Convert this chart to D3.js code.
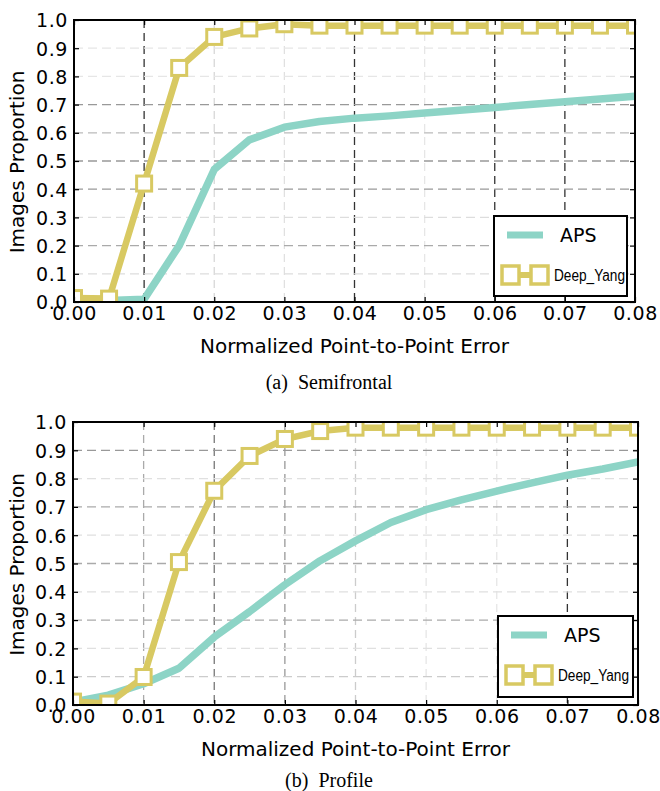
<!DOCTYPE html>
<html>
<head>
<meta charset="utf-8">
<script src="https://cdn.jsdelivr.net/npm/d3@7"></script>
<style>
  body { margin: 0; background: #fff; }
  svg { display: block; }
</style>
</head>
<body>
<div id="mainDiv"></div>
<script>
'use strict';

// error thresholds (x) shared by both panels
var errorSteps = [0, 0.005, 0.01, 0.015, 0.02, 0.025, 0.03, 0.035, 0.04,
                  0.045, 0.05, 0.055, 0.06, 0.065, 0.07, 0.075, 0.08];

// (a) Semifrontal
var semiAPS  = [0.0, 0.005, 0.01, 0.2, 0.47, 0.575, 0.62, 0.64, 0.652,
                0.66, 0.67, 0.68, 0.69, 0.70, 0.71, 0.72, 0.73];
var semiDeep = [0.014, 0.012, 0.42, 0.83, 0.94, 0.97, 0.985, 0.98, 0.98,
                0.98, 0.98, 0.98, 0.98, 0.98, 0.98, 0.98, 0.98];

// (b) Profile
var profAPS  = [0.01, 0.035, 0.075, 0.13, 0.24, 0.33, 0.425, 0.51, 0.58,
                0.645, 0.69, 0.725, 0.756, 0.785, 0.812, 0.834, 0.859];
var profDeep = [0.012, 0.005, 0.099, 0.505, 0.757, 0.88, 0.94, 0.968, 0.98,
                0.98, 0.98, 0.98, 0.98, 0.98, 0.98, 0.98, 0.98];

var xTicks = [0, 0.01, 0.02, 0.03, 0.04, 0.05, 0.06, 0.07, 0.08];
var yTicks = [0, 0.1, 0.2, 0.3, 0.4, 0.5, 0.6, 0.7, 0.8, 0.9, 1.0];
var seriesNames = ['APS', 'Deep_Yang'];
var captions = ['(a)  Semifrontal', '(b)  Profile'];

var chart = {};
chart.tealColor = '#8dd4c6';
chart.goldColor = '#d8c962';
chart.tickFont = 'DejaVu Sans, Verdana, sans-serif';

// panel frames and the (scanned-looking) grey levels of their grid lines
chart.panels = [
  {left: 74, top: 20, right: 635, bottom: 302, aps: semiAPS, deep: semiDeep, caption: captions[0], captionY: 389,
   vGrey: ['#fff', '#333', '#d8d8d8', '#e0e0e0', '#333', '#e6e6e6', '#333', '#333', '#fff'],
   hGrey: ['#fff', '#ddd', '#aaa', '#ddd', '#999', '#999', '#bbb', '#999', '#e6e6e6', '#e6e6e6', '#fff'],
   legend: {x: 494, y: 216, w: 133, h: 80}},
  {left: 73, top: 422, right: 638, bottom: 705, aps: profAPS, deep: profDeep, caption: captions[1], captionY: 787,
   vGrey: ['#fff', '#aaa', '#777', '#999', '#ccc', '#e6e6e6', '#e6e6e6', '#333', '#fff'],
   hGrey: ['#fff', '#ccc', '#e0e0e0', '#aaa', '#e0e0e0', '#aaa', '#e0e0e0', '#aaa', '#e0e0e0', '#999', '#fff'],
   legend: {x: 498, y: 616, w: 135, h: 81}}
];

chart.appendSVG = function(DOMObj) {
    return d3.select(DOMObj).append('svg')
        .attr('width', 660)
        .attr('height', 791);
};

chart.drawPanel = function(svg, p) {
    var x = d3.scaleLinear().domain([0, 0.08]).range([p.left, p.right]);
    var y = d3.scaleLinear().domain([0, 1]).range([p.bottom, p.top]);
    var g = svg.append('g');

    // grid
    g.selectAll('line.vgrid').data(xTicks).enter().append('line')
        .attr('class', 'vgrid')
        .attr('x1', function(d) { return x(d); }).attr('x2', function(d) { return x(d); })
        .attr('y1', p.top).attr('y2', p.bottom)
        .attr('stroke', function(d, i) { return p.vGrey[i]; })
        .attr('stroke-width', 1.3)
        .attr('stroke-dasharray', '8,5');
    g.selectAll('line.hgrid').data(yTicks).enter().append('line')
        .attr('class', 'hgrid')
        .attr('y1', function(d) { return y(d); }).attr('y2', function(d) { return y(d); })
        .attr('x1', p.left).attr('x2', p.right)
        .attr('stroke', function(d, i) { return p.hGrey[i]; })
        .attr('stroke-width', 1.3)
        .attr('stroke-dasharray', '9,5');

    var clipId = 'clip' + p.top;
    svg.append('clipPath').attr('id', clipId).append('rect')
        .attr('x', p.left).attr('y', p.top)
        .attr('width', p.right - p.left).attr('height', p.bottom - p.top);
    var plot = g.append('g').attr('clip-path', 'url(#' + clipId + ')');

    var line = d3.line()
        .x(function(d, i) { return x(errorSteps[i]); })
        .y(function(d) { return y(d); });

    plot.append('path').datum(p.aps)
        .attr('d', line)
        .attr('fill', 'none')
        .attr('stroke', chart.tealColor)
        .attr('stroke-width', 7.5)
        .attr('stroke-linejoin', 'round');

    plot.append('path').datum(p.deep)
        .attr('d', line)
        .attr('fill', 'none')
        .attr('stroke', chart.goldColor)
        .attr('stroke-width', 6.5);

    plot.selectAll('rect.mk').data(p.deep).enter().append('rect')
        .attr('class', 'mk')
        .attr('x', function(d, i) { return x(errorSteps[i]) - 7.5; })
        .attr('y', function(d) { return y(d) - 7.5; })
        .attr('width', 15).attr('height', 15)
        .attr('fill', '#fff')
        .attr('stroke', chart.goldColor)
        .attr('stroke-width', 3);

    // axes (ticks inside, classic style)
    var xAxis = g.append('g').attr('transform', 'translate(0,' + p.bottom + ')')
        .call(d3.axisBottom(x).tickValues(xTicks).tickFormat(d3.format('.2f'))
            .tickSizeInner(-5).tickSizeOuter(0).tickPadding(7));
    var xAxisTop = g.append('g').attr('transform', 'translate(0,' + p.top + ')')
        .call(d3.axisTop(x).tickValues(xTicks).tickFormat('').tickSizeInner(-5).tickSizeOuter(0));
    var yAxis = g.append('g').attr('transform', 'translate(' + p.left + ',0)')
        .call(d3.axisLeft(y).tickValues(yTicks).tickFormat(d3.format('.1f'))
            .tickSizeInner(-5).tickSizeOuter(0).tickPadding(6));
    var yAxisRight = g.append('g').attr('transform', 'translate(' + p.right + ',0)')
        .call(d3.axisRight(y).tickValues(yTicks).tickFormat('').tickSizeInner(-5).tickSizeOuter(0));

    [xAxis, xAxisTop, yAxis, yAxisRight].forEach(function(a) {
        a.select('.domain').remove();
        a.selectAll('line').attr('stroke', '#000').attr('stroke-width', 1.2);
        a.selectAll('text')
            .attr('fill', '#000')
            .style('font-family', chart.tickFont)
            .style('font-size', '19px')
            .style('letter-spacing', '0.6px');
    });
    xAxis.selectAll('text').attr('dy', '0.6em');
    yAxis.selectAll('text').attr('dy', '0.36em');

    g.append('rect')
        .attr('x', p.left).attr('y', p.top)
        .attr('width', p.right - p.left).attr('height', p.bottom - p.top)
        .attr('fill', 'none').attr('stroke', '#000').attr('stroke-width', 2);

    // axis titles
    g.append('text')
        .attr('x', (p.left + p.right) / 2)
        .attr('y', p.bottom + 51)
        .attr('text-anchor', 'middle')
        .style('font-family', chart.tickFont)
        .style('font-size', '20px')
        .text('Normalized Point-to-Point Error');
    g.append('text')
        .attr('transform', 'translate(24,' + ((p.top + p.bottom) / 2 + 1) + ') rotate(-90)')
        .attr('text-anchor', 'middle')
        .style('font-family', chart.tickFont)
        .style('font-size', '20px')
        .text('Images Proportion');

    // legend
    var lg = g.append('g').attr('transform', 'translate(' + p.legend.x + ',' + p.legend.y + ')');
    lg.append('rect')
        .attr('width', p.legend.w).attr('height', p.legend.h)
        .attr('fill', '#fff').attr('stroke', '#000').attr('stroke-width', 2);
    lg.append('line')
        .attr('x1', 13).attr('x2', 49).attr('y1', 19).attr('y2', 19)
        .attr('stroke', chart.tealColor).attr('stroke-width', 7);
    lg.append('text')
        .attr('x', 66).attr('y', 26)
        .style('font-family', chart.tickFont)
        .style('font-size', '19px')
        .text(seriesNames[0]);
    lg.append('line')
        .attr('x1', 15).attr('x2', 46).attr('y1', 59).attr('y2', 59)
        .attr('stroke', chart.goldColor).attr('stroke-width', 6);
    lg.selectAll('rect.lmk').data([0, 1]).enter().append('rect')
        .attr('class', 'lmk')
        .attr('x', function(d) { return 8 + d * 29; })
        .attr('y', 50)
        .attr('width', 17).attr('height', 18)
        .attr('fill', '#fff')
        .attr('stroke', chart.goldColor).attr('stroke-width', 3.5);
    lg.append('text')
        .attr('x', 60).attr('y', 65)
        .attr('textLength', 71)
        .attr('lengthAdjust', 'spacingAndGlyphs')
        .style('font-family', '"Liberation Sans Narrow", "Arial Narrow", "Liberation Sans", sans-serif')
        .style('font-size', '16px')
        .text(seriesNames[1]);

    // caption
    svg.append('text')
        .attr('x', 329).attr('y', p.captionY)
        .attr('text-anchor', 'middle')
        .style('font-family', '"Liberation Serif", "Times New Roman", serif')
        .style('font-size', '20px')
        .style('white-space', 'pre')
        .attr('xml:space', 'preserve')
        .text(p.caption);
};

chart.start = function() {
    var svg = chart.appendSVG('#mainDiv');
    chart.panels.forEach(function(p) { chart.drawPanel(svg, p); });
};

window.onload = chart.start;
</script>
</body>
</html>
